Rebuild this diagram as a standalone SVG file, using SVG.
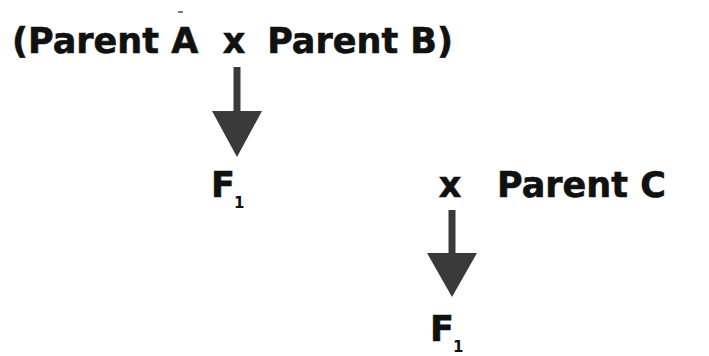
<svg xmlns="http://www.w3.org/2000/svg" width="709" height="356" viewBox="0 0 709 356">
<style>
.t{font-family:"DejaVu Sans","Verdana",sans-serif;font-weight:bold;font-size:35px;fill:#111;stroke:#111;stroke-width:0.6}
.s{font-family:"DejaVu Sans","Verdana",sans-serif;font-weight:bold;font-size:15px;fill:#111}
.arr{fill:#3a3a3a}
</style>
<rect width="709" height="356" fill="#fff"/>
<rect x="178" y="11" width="5" height="2" fill="#777"/>
<g id="parents-ab">
<text class="t" x="12" y="53">(Parent A</text>
<text class="t" x="234" y="53" text-anchor="middle">x</text>
<text class="t" x="453" y="53" text-anchor="end">Parent B)</text>
</g>
<g id="f1-a">
<text class="t" x="211" y="197">F</text>
<text class="s" x="234" y="208">1</text>
</g>
<g id="parent-c">
<text class="t" x="450" y="197" text-anchor="middle">x</text>
<text class="t" x="497" y="197">Parent C</text>
</g>
<g id="f1-b">
<text class="t" x="430" y="341">F</text>
<text class="s" x="453" y="352">1</text>
</g>
<g id="connectors">
<path class="arr" d="M233.5,67 H240.5 V111 H262 L237,157 L212,111 H233.5 Z"/>
<path class="arr" d="M448.5,210 H455.5 V253 H477 L452,297 L427,253 H448.5 Z"/>
</g>
</svg>
